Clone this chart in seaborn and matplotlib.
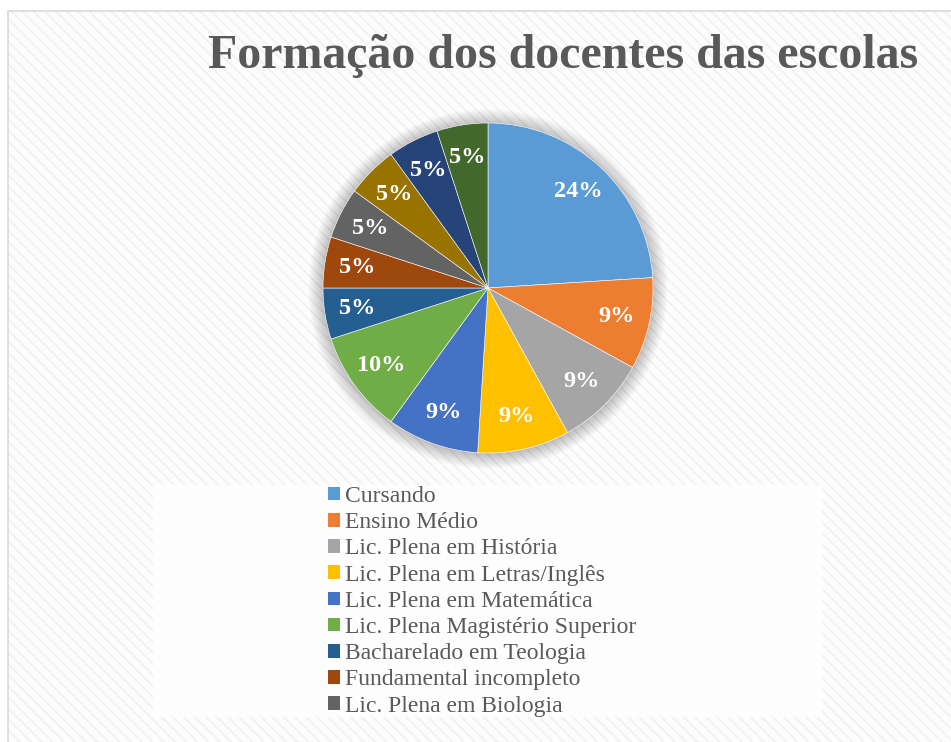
import matplotlib
matplotlib.use("Agg")
import matplotlib.pyplot as plt
import seaborn as sns
from matplotlib.patches import Rectangle, Circle

# dados do gráfico
categorias = ['Cursando', 'Ensino Médio', 'Lic. Plena em História',
              'Lic. Plena em Letras/Inglês', 'Lic. Plena em Matemática',
              'Lic. Plena Magistério Superior', 'Bacharelado em Teologia',
              'Fundamental incompleto', 'Lic. Plena em Biologia', '', '', '']
percentuais = [24, 9, 9, 9, 9, 10, 5, 5, 5, 5, 5, 5]
cores = ['#5B9BD5', '#ED7D31', '#A5A5A5', '#FFC000', '#4472C4', '#70AD47',
         '#255E91', '#9E480E', '#636363', '#997300', '#264478', '#43682B']
titulo = 'Formação dos docentes das escolas'

sns.set_theme(style='white')
plt.rcParams['font.family'] = ['Liberation Serif', 'DejaVu Serif']
plt.rcParams['hatch.linewidth'] = 1.3

W, H = 951, 742
fig = plt.figure(figsize=(W / 100, H / 100), dpi=100)
fig.patch.set_facecolor('white')

# fundo listrado e moldura
fig.add_artist(Rectangle((8 / W, -0.01), 1.0, (H - 11) / H + 0.01, transform=fig.transFigure,
                         facecolor='#FDFDFD', edgecolor='#F1F1F1', hatch='\\\\\\', linewidth=0, zorder=0))
fig.add_artist(Rectangle((8 / W, -0.01), 1.0, (H - 11) / H + 0.01, transform=fig.transFigure,
                         facecolor='none', edgecolor='#D9D9D9', linewidth=1.2, zorder=1))
# caixa da legenda
fig.add_artist(Rectangle((153 / W, (H - 717) / H), 669 / W, 232 / H, transform=fig.transFigure,
                         facecolor='white', edgecolor='none', alpha=0.85, zorder=1))

fig.text(563 / W, (H - 56) / H, titulo, ha='center', va='center', fontsize=34.5,
         fontweight='bold', color='#595959')

# pizza
R = 165
cx, cy = 488, 288
ax = fig.add_axes([(cx - 1.25 * R) / W, (H - cy - 1.25 * R) / H, 2.5 * R / W, 2.5 * R / H])
ax.set_xlim(-1.25, 1.25)
ax.set_ylim(-1.25, 1.25)
ax.set_aspect('equal')
ax.axis('off')
ax.patch.set_alpha(0)

# sombra suave
for k in range(20):
    ax.add_patch(Circle((0, -0.006), 1.0 + 0.0045 * (k + 1), color='black',
                        alpha=0.011, linewidth=0, zorder=0))

paleta = sns.color_palette(cores)
wedges, _, autotexts = ax.pie(percentuais, colors=paleta, startangle=90, counterclock=False,
                              radius=1.0, autopct='%1.0f%%', pctdistance=0.8,
                              wedgeprops=dict(linewidth=0.4, edgecolor='white'),
                              textprops=dict(color='white', fontsize=17.5, fontweight='bold'))
for w in wedges:
    w.set_zorder(2)
for t in autotexts:
    t.set_zorder(3)

leg = fig.legend(wedges[:9], categorias[:9], loc='upper left',
                 bbox_to_anchor=(328 / W, (H - 486) / H), frameon=False,
                 fontsize=17, labelcolor='#595959', handlelength=0.5, handleheight=0.5,
                 handletextpad=0.22, labelspacing=0.22, borderpad=0, borderaxespad=0)
for h in leg.legend_handles:
    h.set_edgecolor('none')

fig.savefig('out.png', dpi=100)
